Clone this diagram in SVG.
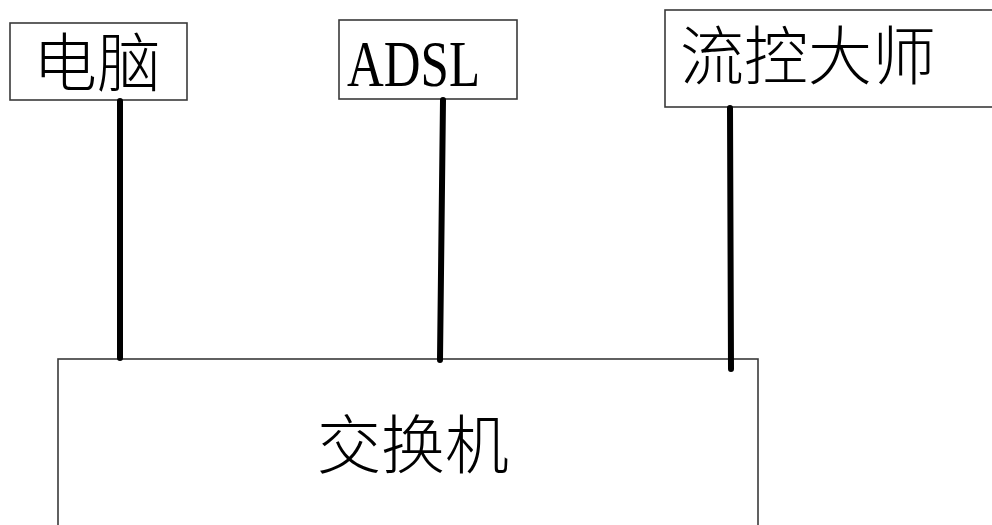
<svg xmlns="http://www.w3.org/2000/svg" width="992" height="525" viewBox="0 0 992 525">
<style>
.box{fill:#fff;stroke:#3a3a3a;stroke-width:1.6}
.cj{font-family:"Noto Sans CJK SC","Noto Sans CJK JP",sans-serif;font-weight:300;font-size:64px;fill:#000;text-anchor:middle}
.lat{font-family:"Liberation Serif",serif;font-size:66px;fill:#000}
.wire{stroke:#000;stroke-width:6;stroke-linecap:round;fill:none}
</style>
<rect width="992" height="525" fill="#fff"/>
<g id="node-switch">
<rect class="box" x="58" y="359" width="700" height="200"/>
<text class="cj" x="413" y="468">交换机</text>
</g>
<g id="node-pc">
<rect class="box" x="10" y="23" width="177" height="77"/>
<text class="cj" x="97" y="86">电脑</text>
</g>
<g id="node-adsl">
<rect class="box" x="339" y="20" width="178" height="79"/>
<text class="lat" x="347" y="86" textLength="133" lengthAdjust="spacingAndGlyphs">ADSL</text>
</g>
<g id="node-flow">
<rect class="box" x="665" y="10" width="340" height="97"/>
<text class="cj" x="808" y="79" font-size="66">流控大师</text>
</g>
<g id="connectors">
<line class="wire" x1="120" y1="101" x2="120" y2="358"/>
<line class="wire" x1="443" y1="100" x2="440" y2="360"/>
<line class="wire" x1="730" y1="108" x2="731" y2="369"/>
</g>
</svg>
